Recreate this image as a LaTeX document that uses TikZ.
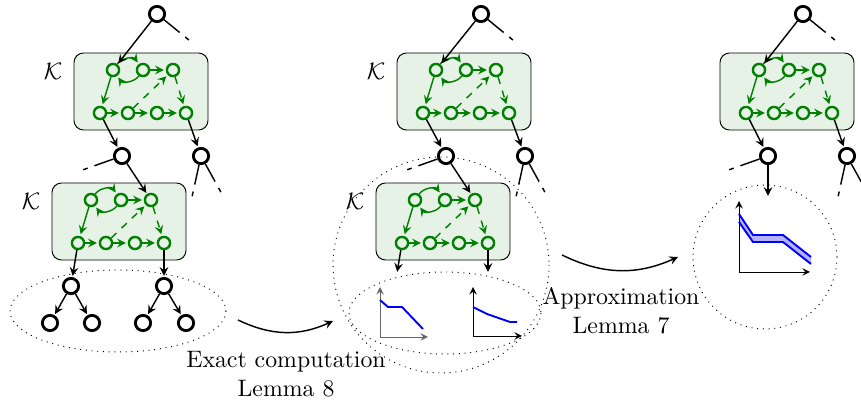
\documentclass[tikz,border=0pt]{standalone}
\usepackage{tikz}
\usepackage{amsmath}

\begin{document}
\begin{tikzpicture}[x=0.42pt,y=-0.42pt,
    vertex/.style ={circle, draw, line width=1.2pt, inner sep = 0pt, minimum size=6.4pt},
    gvertex/.style ={circle, draw=green!50!black, line width=1pt, inner sep = 0pt, minimum size=5.1pt},
    gadget/.style ={draw, rounded corners=4pt, fill=green!50!black!10},
    tedge/.style ={semithick, -stealth, shorten >=0.5pt},
    gedge/.style ={semithick, green!50!black, -stealth, shorten >=0.8pt},
    stub/.style ={semithick, dash pattern=on 8.5pt off 3pt on 2pt off 30pt},
    zone/.style ={dotted}]
   \useasboundingbox (0,0) rectangle (861,406);
   % dotted regions
   \draw[zone] (118,311) ellipse (108 and 41);
   \draw[zone] (441,265) circle (108);
   \draw[zone] (445,313) ellipse (96 and 41);
   \draw[zone] (765,257) circle (72);
   % the K gadgets
   \foreach \px/\py/\n in {74/53/1, 52/183/2, 397/53/3, 376/183/4, 720/53/5} {
     \begin{scope}[shift={(\px,\py)}]
       \draw[gadget] (0,0) rectangle (134,77);
       \node[gvertex] (u1-\n) at (39,17) {};
       \node[gvertex] (u2-\n) at (69,17) {};
       \node[gvertex] (u3-\n) at (99,17) {};
       \node[gvertex] (w1-\n) at (26,60) {};
       \node[gvertex] (w2-\n) at (54,60) {};
       \node[gvertex] (w3-\n) at (83,60) {};
       \node[gvertex] (w4-\n) at (112,60) {};
       \draw[gedge] (u1-\n) to [bend left = 55] (u2-\n);
       \draw[gedge] (u2-\n) to [bend left = 55] (u1-\n);
       \draw[gedge] (u2-\n) to (u3-\n);
       \draw[gedge] (u1-\n) to (w1-\n);
       \draw[gedge] (w1-\n) to (w2-\n);
       \draw[gedge] (w2-\n) to (w3-\n);
       \draw[gedge] (w3-\n) to (w4-\n);
       \draw[gedge,dashed] (w2-\n) to (u3-\n);
       \draw[gedge,dashed] (u3-\n) to (w4-\n);
     \end{scope}
   }
   \node (k1) at (53,71) {$\mathcal{K}$};
   \node (k2) at (31,201) {$\mathcal{K}$};
   \node (k3) at (376,71) {$\mathcal{K}$};
   \node (k4) at (355,201) {$\mathcal{K}$};
   % panel 1: the tree
   \node[vertex] (r1) at (157,14) {};
   \node[vertex] (a1) at (122,156) {};
   \node[vertex] (b1) at (201,156) {};
   \node[vertex] (c1) at (71,286) {};
   \node[vertex] (d1) at (164,286) {};
   \node[vertex] (c1l) at (50,323) {};
   \node[vertex] (c1r) at (92,323) {};
   \node[vertex] (d1l) at (143,323) {};
   \node[vertex] (d1r) at (186,323) {};
   \draw[tedge] (r1) to (u1-1);
   \draw[tedge] (w1-1) to (a1);
   \draw[tedge] (w4-1) to (b1);
   \draw[tedge] (a1) to (u3-2);
   \draw[tedge] (w1-2) to (c1);
   \draw[tedge] (w4-2) to (d1);
   \draw[tedge] (c1) to (c1l);
   \draw[tedge] (c1) to (c1r);
   \draw[tedge] (d1) to (d1l);
   \draw[tedge] (d1) to (d1r);
   \draw[stub] (r1) -- +(38,31);
   \draw[stub] (a1) -- +(-48,17);
   \draw[stub] (b1) -- +(-9,41);
   \draw[stub] (b1) -- +(22,40);
   % panel 2: the tree
   \node[vertex] (r2) at (481,14) {};
   \node[vertex] (a2) at (446,156) {};
   \node[vertex] (b2) at (525,156) {};
   \coordinate (c2) at (397,273);
   \coordinate (d2) at (488,273);
   \draw[tedge] (r2) to (u1-3);
   \draw[tedge] (w1-3) to (a2);
   \draw[tedge] (w4-3) to (b2);
   \draw[tedge] (a2) to (u3-4);
   \draw[tedge] (w1-4) to (c2);
   \draw[tedge] (w4-4) to (d2);
   \draw[stub] (r2) -- +(38,31);
   \draw[stub] (a2) -- +(-48,17);
   \draw[stub] (b2) -- +(-9,41);
   \draw[stub] (b2) -- +(22,40);
   % panel 3: the tree
   \node[vertex] (r3) at (803,14) {};
   \node[vertex] (a3) at (768,156) {};
   \node[vertex] (b3) at (847,156) {};
   \coordinate (c3) at (768,197);
   \draw[tedge] (r3) to (u1-5);
   \draw[tedge] (w1-5) to (a3);
   \draw[tedge] (w4-5) to (b3);
   \draw[tedge] (a3) to (c3);
   \draw[stub] (r3) -- +(38,31);
   \draw[stub] (a3) -- +(-48,17);
   \draw[stub] (b3) -- +(-9,41);
   \draw[stub] (b3) -- +(22,40);
   % the plots
   \draw[-stealth, black!60] (380,337) -- (380,287);
   \draw[-stealth, black!60] (380,337) -- (428,337);
   \draw[thick, blue] (380,300) -- (388,307) -- (402,307) -- (423,329);
   \draw[-stealth] (473,336) -- (473,287);
   \draw[-stealth] (473,336) -- (522,336);
   \draw[thick, blue] (473,307) -- (487,314) -- (510,322) -- (517,322);
   \fill[blue!30] (739,214) -- (753,235) -- (783,235) -- (811,257) -- (811,264) -- (783,242) -- (753,242) -- (739,222) -- cycle;
   \draw[thick, blue] (739,214) -- (753,235) -- (783,235) -- (811,257);
   \draw[thick, blue] (739,222) -- (753,242) -- (783,242) -- (811,264);
   \draw[-stealth] (739,272) -- (739,201);
   \draw[-stealth] (739,272) -- (810,272);
   % the steps
   \coordinate (s1) at (238,320);
   \coordinate (t1) at (333,321);
   \coordinate (s2) at (562,255);
   \coordinate (t2) at (678,257);
   \draw[semithick, -stealth] (s1) to [bend right = 25] (t1);
   \draw[semithick, -stealth] (s2) to [bend right = 25] (t2);
   \node[align=center] (exact) at (286,374) {Exact computation\\Lemma 8};
   \node[align=center] (approx) at (621,311) {Approximation\\Lemma 7};
\end{tikzpicture}
\end{document}
